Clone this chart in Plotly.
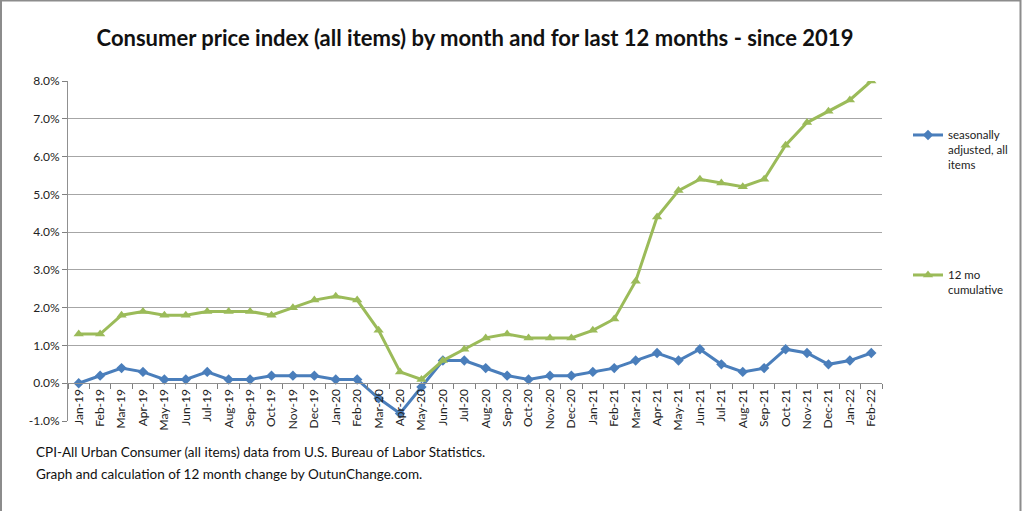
import plotly.graph_objects as go

months = ["Jan-19","Feb-19","Mar-19","Apr-19","May-19","Jun-19","Jul-19","Aug-19","Sep-19","Oct-19","Nov-19","Dec-19",
          "Jan-20","Feb-20","Mar-20","Apr-20","May-20","Jun-20","Jul-20","Aug-20","Sep-20","Oct-20","Nov-20","Dec-20",
          "Jan-21","Feb-21","Mar-21","Apr-21","May-21","Jun-21","Jul-21","Aug-21","Sep-21","Oct-21","Nov-21","Dec-21",
          "Jan-22","Feb-22"]

seasonally_adjusted = [0.0,0.2,0.4,0.3,0.1,0.1,0.3,0.1,0.1,0.2,0.2,0.2,
                       0.1,0.1,-0.4,-0.8,-0.1,0.6,0.6,0.4,0.2,0.1,0.2,0.2,
                       0.3,0.4,0.6,0.8,0.6,0.9,0.5,0.3,0.4,0.9,0.8,0.5,
                       0.6,0.8]

cumulative_12mo = [1.3,1.3,1.8,1.9,1.8,1.8,1.9,1.9,1.9,1.8,2.0,2.2,
                   2.3,2.2,1.4,0.3,0.1,0.6,0.9,1.2,1.3,1.2,1.2,1.2,
                   1.4,1.7,2.7,4.4,5.1,5.4,5.3,5.2,5.4,6.3,6.9,7.2,
                   7.5,8.0]

y_ticks = [-1, 0, 1, 2, 3, 4, 5, 6, 7, 8]

title_text = "Consumer price index (all items) by month and for last 12 months - since 2019"
source_lines = ["CPI-All Urban Consumer (all items) data from U.S. Bureau of Labor Statistics.",
                "Graph and calculation of 12 month change by OutunChange.com."]

BLUE = "#4A7EBB"
GREEN = "#9BBB59"
FONT = "Lato, 'Liberation Sans', Arial, sans-serif"

fig = go.Figure()
fig.add_trace(go.Scatter(
    x=months, y=seasonally_adjusted, mode="lines+markers",
    name="seasonally<br>adjusted, all<br>items",
    line=dict(color=BLUE, width=3),
    marker=dict(symbol="diamond", size=8, color=BLUE),
    legend="legend",
))
fig.add_trace(go.Scatter(
    x=months, y=cumulative_12mo, mode="lines+markers",
    name="12 mo<br>cumulative",
    line=dict(color=GREEN, width=3),
    marker=dict(symbol="triangle-up", size=9, color=GREEN),
    legend="legend2",
))

L, R, T, B = 68, 142, 81, 90
W, H = 1024, 511
pw, ph = W - L - R, H - T - B
def px_x(p): return (p - L) / pw
def px_y(p): return (H - B - p) / ph

ymin, ymax = -1, 8

annotations = [dict(text=line, xref="paper", yref="paper",
                    x=px_x(34), y=px_y(452 + 22 * i), xanchor="left", yanchor="middle",
                    align="left", showarrow=False,
                    font=dict(size=13.5, color="#111111", family=FONT))
               for i, line in enumerate(source_lines)]

fig.update_layout(
    width=W, height=H,
    margin=dict(l=L, r=R, t=T, b=B, autoexpand=False),
    paper_bgcolor="white", plot_bgcolor="white",
    font=dict(family=FONT, color="#222222", size=11),
    title=dict(text="<b>" + title_text + "</b>", x=0.5, xref="paper", xanchor="center",
               y=1 - 38 / H, yanchor="middle", font=dict(size=22, color="#111111", family=FONT)),
    showlegend=True,
    legend=dict(x=px_x(908), y=px_y(121), xanchor="left", yanchor="top", valign="top",
                font=dict(size=11.5, color="#222222"), bgcolor="rgba(0,0,0,0)",
                itemwidth=30),
    legend2=dict(x=px_x(908), y=px_y(261), xanchor="left", yanchor="top", valign="top",
                 font=dict(size=11.5, color="#222222"), bgcolor="rgba(0,0,0,0)",
                 itemwidth=30),
    xaxis=dict(
        type="category", categoryorder="array", categoryarray=months,
        anchor="free", position=(0 - ymin) / (ymax - ymin),
        range=[-0.5, len(months) - 0.5],
        tickangle=-90, tickson="boundaries", ticks="outside", ticklen=5,
        tickcolor="#808080", showline=True, linecolor="#909090", linewidth=1,
        showgrid=False, tickfont=dict(size=12, color="#222222"), automargin=False,
    ),
    yaxis=dict(
        range=[ymin, ymax], tickvals=y_ticks,
        ticktext=[f"{v:.1f}%" for v in y_ticks],
        showgrid=True, gridcolor="#A6A6A6", gridwidth=1,
        showline=True, linecolor="#909090", linewidth=1,
        ticks="outside", ticklen=5, tickcolor="#808080",
        zeroline=False, tickfont=dict(size=12, color="#222222"), automargin=False,
    ),
    shapes=[dict(type="rect", xref="paper", yref="paper",
                 x0=px_x(1), x1=px_x(1020.5), y0=px_y(520), y1=px_y(0.5),
                 line=dict(color="#8C8C8C", width=2), layer="below")],
    annotations=annotations,
)

fig.write_html("out.html", config={"displayModeBar": False},
               post_script="document.body.style.margin='0';document.body.style.overflow='hidden';")
